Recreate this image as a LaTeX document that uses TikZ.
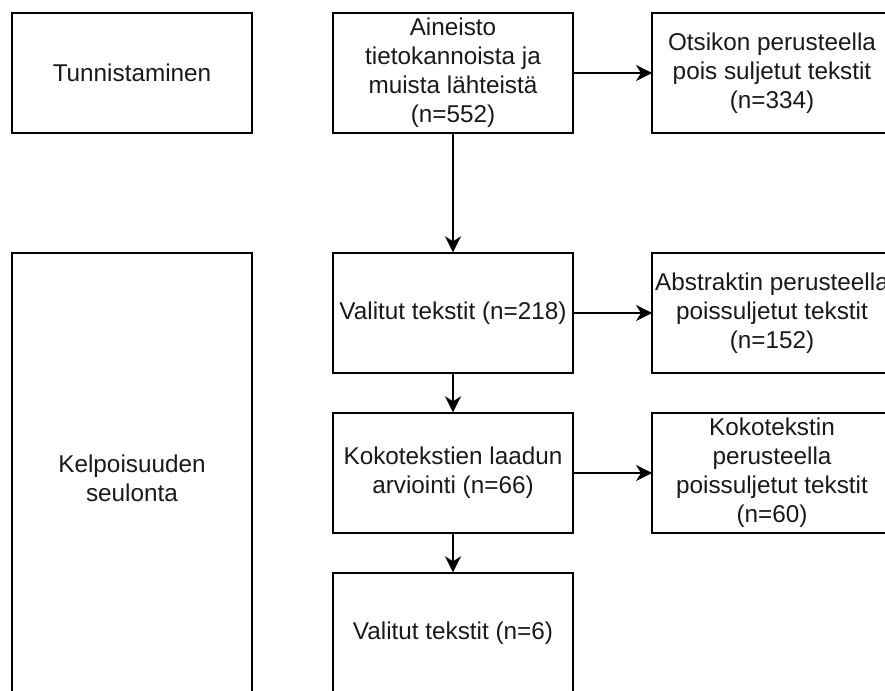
\documentclass[tikz,border=0pt]{standalone}
\usepackage{fontspec}
\setmainfont{Liberation Sans}
\usetikzlibrary{arrows.meta}
\tikzset{
  stage/.style={draw=black, line width=1.4pt, minimum width=240pt, minimum height=120pt,
    inner sep=0pt, align=center, text=black!90,
    font=\fontsize{24.3}{29}\selectfont},
  tall/.style={stage, minimum height=450pt},
  side/.style={stage, draw=none, outer sep=0pt},
  frame/.style={draw=black, line width=1.4pt}
}
\begin{document}
\begin{tikzpicture}[x=1pt,y=-1pt]
      \clip (0,0) rectangle (885,690);
      \draw
        (132,73) node[stage] (t){Tunnistaminen}
        (453,73) node[stage] (a){Aineisto\\tietokannoista ja\\muista lähteistä\\(n=552)}
        (772,73) node[side] (o){Otsikon perusteella\\pois suljetut tekstit\\(n=334)}
        (132,478) node[tall] (k){Kelpoisuuden\\seulonta}
        (453,313) node[stage] (v1){Valitut tekstit (n=218)}
        (772,313) node[side] (ab){Abstraktin perusteella\\poissuljetut tekstit\\(n=152)}
        (453,473) node[stage] (kl){Kokotekstien laadun\\arviointi (n=66)}
        (772,473) node[side] (kp){Kokotekstin\\perusteella\\poissuljetut tekstit\\(n=60)}
        (453,633) node[stage] (v2){Valitut tekstit (n=6)};
      % right column boxes run past the edge
      \foreach \n in {o,ab,kp}
        \draw[frame] (\n.north west) rectangle ++(260,120);
      \begin{scope}[-{Stealth[length=16pt,width=16pt,inset=5pt]}, line width=1.4pt]
        \draw (a) to (o);
        \draw (a) to (v1);
        \draw (v1) to (ab);
        \draw (v1) to (kl);
        \draw (kl) to (kp);
        \draw (kl) to (v2);
      \end{scope}
    \end{tikzpicture}
\end{document}
